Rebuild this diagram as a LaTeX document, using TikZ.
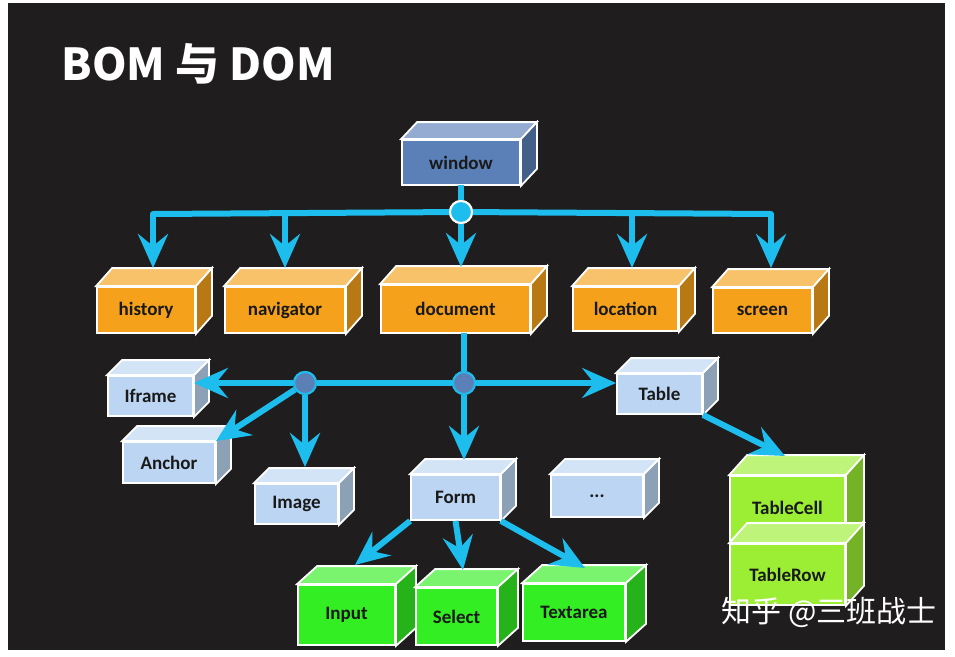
\documentclass[tikz,border=0pt]{standalone}
\usepackage{fontspec}
\setsansfont{Carlito}
\newfontfamily\cjk{Noto Sans CJK SC}
\usetikzlibrary{arrows.meta,calc}
\tikzset{>=stealth}
\definecolor{bg}{HTML}{1F1D1E}
\definecolor{wire}{HTML}{1DBDEE}
\definecolor{winblue}{HTML}{5B80B8}
\definecolor{bomorange}{HTML}{F5A11C}
\definecolor{domblue}{HTML}{BBD5F3}
\definecolor{formgreen}{HTML}{33EE22}
\definecolor{tablegreen}{HTML}{9BEE33}
\tikzset{
  cube/.style={draw=white, line width=1.8pt, inner sep=0pt, font=\sffamily\bfseries\fontsize{19}{22}\selectfont, text=black!90},
  wire/.style={draw=wire, line width=6pt},
  arr/.style={wire, -{Stealth[length=34pt,width=30pt,inset=12pt]}},
  joint/.style={circle, draw=wire, line width=2pt, minimum size=22pt, inner sep=0pt}
}
% front face from (x1,y1) to (x2,y2), depth (dx,dy)
\newcommand\cubenode[8]{%
  \node[cube, fill=#6, minimum width=#4-#2, minimum height=#5-#3] (#1) at ({(#2+#4)/2},{(#3+#5)/2}) {#7};
  \filldraw[draw=white, line width=1.8pt, fill=#6!65!white] (#1.north west) -- ++(#8) -- ($(#1.north east)+(#8)$) -- (#1.north east) -- cycle;
  \filldraw[draw=white, line width=1.8pt, fill=#6!75!black] (#1.north east) -- ++(#8) -- ($(#1.south east)+(#8)$) -- (#1.south east) -- cycle;
}

\begin{document}
\begin{tikzpicture}[x=1pt, y=-1pt]
\useasboundingbox (0,0) rectangle (955,656);
\fill[white] (0,0) rectangle (955,656);
\fill[bg] (8,3) rectangle (945,650);
\node[anchor=west, text=white, font=\cjk\bfseries\fontsize{44}{48}\selectfont] (title) at (58,64) {BOM 与 DOM};

% BOM
\cubenode{window}{402}{140}{520}{185}{winblue}{window}{16,-17}
\node[joint, fill=wire, draw=white] (j1) at (461,212) {};
\coordinate (hl) at (153,214);
\coordinate (hr) at (771,214);
\draw[wire] (461,185) -- (j1);
\draw[wire, line cap=round] (hl) -- (j1) -- (hr);
\cubenode{history}{97}{287}{195}{333}{bomorange}{history}{16,-18}
\cubenode{navigator}{225}{287}{345}{333}{bomorange}{navigator}{16,-18}
\cubenode{document}{381}{285}{530}{333}{bomorange}{document}{16,-18}
\cubenode{location}{573}{287}{678}{331}{bomorange}{location}{16,-18}
\cubenode{screen}{713}{288}{812}{333}{bomorange}{screen}{16,-18}
\draw[arr] (hl) -- (153,268);
\draw[arr] (285,214) -- (285,268);
\draw[arr] (j1) -- (461,267);
\draw[arr] (632,214) -- (632,268);
\draw[arr] (hr) -- (771,268);

% DOM
\cubenode{iframe}{108}{376}{193}{416}{domblue}{Iframe}{15,-15}
\cubenode{anchor}{123}{442}{215}{483}{domblue}{Anchor}{15,-15}
\cubenode{image}{255}{484}{338}{524}{domblue}{Image}{15,-15}
\cubenode{form}{411}{475}{500}{520}{domblue}{Form}{15,-15}
\cubenode{more}{551}{475}{643}{517}{domblue}{...}{15,-15}
\cubenode{table}{617}{374}{702}{414}{domblue}{Table}{15,-15}
\cubenode{cell}{730}{476}{845}{540}{tablegreen}{TableCell}{18,-20}
\cubenode{row}{730}{544}{845}{605}{tablegreen}{TableRow}{18,-20}
\cubenode{input}{298}{585}{395}{645}{formgreen}{Input}{20,-18}
\cubenode{select}{416}{588}{497}{645}{formgreen}{Select}{20,-18}
\cubenode{textarea}{523}{584}{625}{641}{formgreen}{Textarea}{20,-18}

\node[joint, fill=winblue] (j2) at (305,383) {};
\node[joint, fill=winblue] (j3) at (464,383) {};
\draw[wire] (464,333) -- (j3);
\draw[wire] (j2) -- (j3);
\draw[arr] (j2) -- (iframe.east |- j2);
\draw[arr] (j3) -- (table.west |- j3);
\draw[arr] (j2) -- (anchor.north east);
\draw[arr] (j2) -- (305,467);
\draw[arr] (j3) -- (464,460);
\draw[arr] (table.south east) -- (785,456);
\draw[arr] (form.south west) -- (355,565);
\draw[arr] (form.south) -- (463,570);
\draw[arr] (form.south east) -- (585,568);
\node[joint, fill=winblue] at (j2) {};
\node[joint, fill=winblue] at (j3) {};
\node[joint, fill=wire, draw=white] at (j1) {};

\node[anchor=west, text=white, font=\cjk\fontsize{30}{34}\selectfont] (mark) at (718,612) {知乎 @三班战士};
\end{tikzpicture}
\end{document}
